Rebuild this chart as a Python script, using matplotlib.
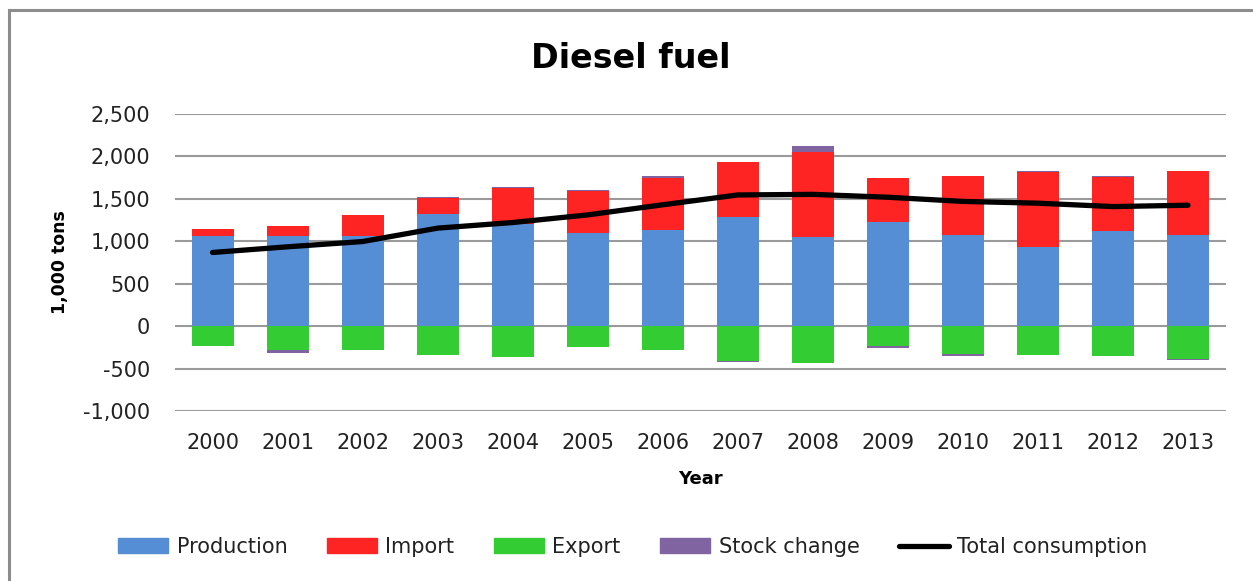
import matplotlib.pyplot as plt
import matplotlib.patches as mpatches
import numpy as np

plt.rcParams['font.family'] = ['DejaVu Sans']

years        = [2000, 2001, 2002, 2003, 2004, 2005, 2006, 2007, 2008, 2009, 2010, 2011, 2012, 2013]
production   = [1064, 1062, 1062, 1327, 1205, 1092, 1131, 1284, 1049, 1225, 1076, 935, 1127, 1072]
imports      = [79, 124, 245, 184, 420, 505, 619, 654, 999, 518, 690, 882, 635, 753]
exports      = [-237, -276, -276, -335, -363, -245, -276, -406, -433, -237, -323, -335, -347, -386]
stock_change = [5, -40, 0, 5, 10, 5, 20, -12, 70, -24, -24, 8, 8, -12]
total_cons   = [868, 935, 997, 1155, 1221, 1311, 1430, 1546, 1553, 1519, 1470, 1449, 1409, 1425]

c_prod = "#558ED5"
c_imp = "#FF2424"
c_exp = "#33CC33"
c_stock = "#8064A2"

x = np.arange(len(years))
prod = np.array(production)
imp = np.array(imports)
exp_ = np.array(exports)
stk = np.array(stock_change)
stk_pos = np.where(stk > 0, stk, 0)
stk_neg = np.where(stk < 0, stk, 0)

fig = plt.figure(figsize=(12.53, 5.81), dpi=100)
ax = fig.add_axes([175 / 1253, 1 - 411 / 581, 1050.5 / 1253, 297 / 581])

w = 0.56
ax.bar(x, prod, w, color=c_prod, zorder=2)
ax.bar(x, imp, w, bottom=prod, color=c_imp, zorder=2)
ax.bar(x, exp_, w, color=c_exp, zorder=2)
ax.bar(x, stk_pos, w, bottom=prod + imp, color=c_stock, zorder=2)
ax.bar(x, stk_neg, w, bottom=exp_, color=c_stock, zorder=2)
ax.plot(x, total_cons, color="black", linewidth=3.8, solid_capstyle="round",
        solid_joinstyle="round", zorder=3)

ax.set_xlim(-0.5, len(years) - 0.5)
ax.set_ylim(-1000, 2500)
ax.set_yticks(range(-1000, 2501, 500))
ax.set_yticklabels([f"{v:,}" for v in range(-1000, 2501, 500)], fontsize=15, color="#222222")
ax.set_xticks(x)
ax.set_xticklabels([str(y) for y in years], fontsize=15, color="#222222")
ax.tick_params(length=0)
ax.tick_params(axis="x", pad=16)
ax.tick_params(axis="y", pad=18)
for s in ax.spines.values():
    s.set_visible(False)
ax.grid(axis="y", color="#9A9A9A", linewidth=1.5, zorder=0)
ax.set_axisbelow(True)

ax.set_xlabel("Year", fontsize=13, fontweight="bold", labelpad=12)
ax.set_ylabel("1,000 tons", fontsize=12.5, fontweight="bold", labelpad=10)

fig.text(631 / 1253, 1 - 58 / 581, "Diesel fuel", ha="center", va="center",
         fontsize=24, fontweight="bold")

# chart border: only top and left edges are visible
bx, by = 8.5 / 1253, 1 - 10 / 581
fig.add_artist(plt.Line2D([bx, 1], [by, by], transform=fig.transFigure,
                          color="#8C8C8C", linewidth=2.2))
fig.add_artist(plt.Line2D([bx, bx], [0, by], transform=fig.transFigure,
                          color="#8C8C8C", linewidth=2.2))

handles = [mpatches.Patch(color=c_prod, label="Production"),
           mpatches.Patch(color=c_imp, label="Import"),
           mpatches.Patch(color=c_exp, label="Export"),
           mpatches.Patch(color=c_stock, label="Stock change"),
           plt.Line2D([], [], color="black", linewidth=3.8, solid_capstyle="round",
                      label="Total consumption")]
fig.legend(handles=handles, loc="center", bbox_to_anchor=(633 / 1253, 1 - 547 / 581),
           ncol=5, frameon=False, fontsize=15, handlelength=2.4, handleheight=0.7,
           handletextpad=0.4, columnspacing=1.9, labelcolor="#222222")

plt.savefig("out.png", dpi=100)
plt.close()
